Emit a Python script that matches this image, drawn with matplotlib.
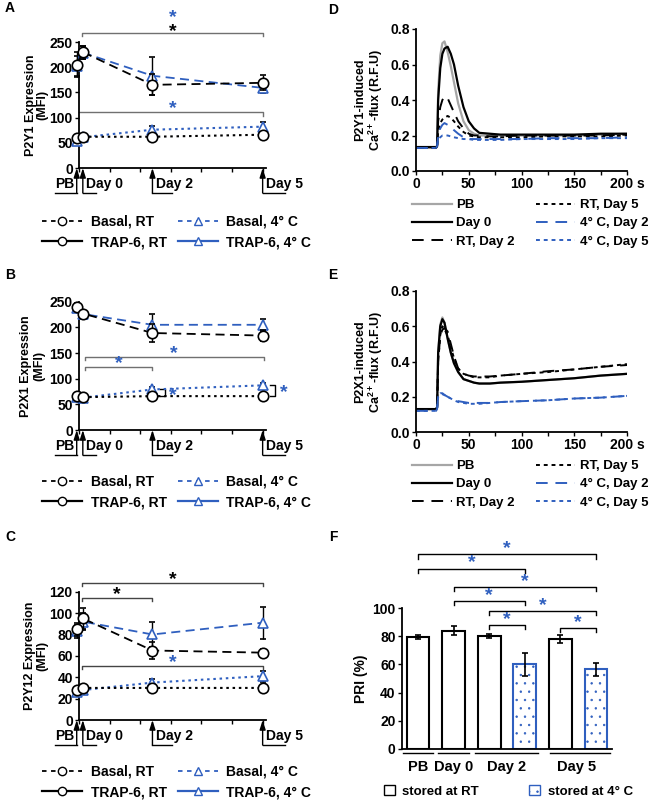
import matplotlib
matplotlib.use('Agg')
import matplotlib.pyplot as plt
from matplotlib.lines import Line2D
from matplotlib.patches import Patch

plt.rcParams['font.family'] = ['Liberation Sans', 'DejaVu Sans']
plt.rcParams['font.weight'] = 'bold'
plt.rcParams['axes.labelweight'] = 'bold'
plt.rcParams['mathtext.fontset'] = 'custom'
plt.rcParams['mathtext.rm'] = 'Liberation Sans:bold'
plt.rcParams['mathtext.bf'] = 'Liberation Sans:bold'
plt.rcParams['hatch.linewidth'] = 0.5

BLUE = '#2F5FBF'
GRAY = '#707070'

# ---- expression data (A-C), x in hours: PB, Day 0, Day 2, Day 5
hours = [-1.5, 2.5, 48, 120]

p2y1_trap_rt = [205, 230, 165, 169]
p2y1_trap_rt_err = [25, 13, 21, 15]
p2y1_trap_4c = [203, 229, 183, 159]
p2y1_trap_4c_err = [20, 13, 38, 10]
p2y1_basal_rt = [59, 62, 62, 66]
p2y1_basal_rt_err = [3, 3, 4, 3]
p2y1_basal_4c = [53, 61, 76, 82]
p2y1_basal_4c_err = [3, 3, 8, 10]

p2x1_trap_rt = [240, 227, 189, 184]
p2x1_trap_rt_err = [8, 6, 18, 10]
p2x1_trap_4c = [238, 226, 205, 205]
p2x1_trap_4c_err = [8, 6, 22, 12]
p2x1_basal_rt = [66, 64, 66, 66]
p2x1_basal_rt_err = [3, 3, 3, 3]
p2x1_basal_4c = [65, 63, 79, 87]
p2x1_basal_4c_err = [3, 3, 4, 4]

p2y12_trap_rt = [85, 95, 65, 63]
p2y12_trap_rt_err = [6, 10, 8, 3]
p2y12_trap_4c = [83, 92, 80, 91]
p2y12_trap_4c_err = [6, 8, 12, 15]
p2y12_basal_rt = [28, 30, 30, 30]
p2y12_basal_rt_err = [2, 2, 2, 2]
p2y12_basal_4c = [26, 28, 35, 41]
p2y12_basal_4c_err = [2, 2, 3, 5]

# ---- calcium flux traces (D, E)
t_sec = [0, 10, 19, 20, 21, 23, 25, 27, 30, 33, 36, 40, 45, 50, 55, 60, 70, 80, 100, 125, 150, 175, 200]

d_pb = [0.13, 0.13, 0.13, 0.14, 0.45, 0.65, 0.72, 0.73, 0.67, 0.59, 0.50, 0.38, 0.28, 0.23, 0.21, 0.20, 0.20, 0.20, 0.20, 0.20, 0.20, 0.205, 0.21]
d_day0 = [0.135, 0.135, 0.135, 0.14, 0.40, 0.58, 0.66, 0.69, 0.70, 0.66, 0.60, 0.48, 0.36, 0.28, 0.24, 0.215, 0.21, 0.205, 0.205, 0.205, 0.205, 0.21, 0.21]
d_rt2 = [0.13, 0.13, 0.13, 0.14, 0.28, 0.36, 0.40, 0.42, 0.41, 0.37, 0.33, 0.28, 0.24, 0.21, 0.20, 0.20, 0.195, 0.195, 0.20, 0.20, 0.20, 0.20, 0.205]
d_rt5 = [0.13, 0.13, 0.13, 0.14, 0.22, 0.27, 0.29, 0.30, 0.31, 0.30, 0.28, 0.25, 0.22, 0.20, 0.195, 0.19, 0.19, 0.19, 0.19, 0.195, 0.195, 0.195, 0.20]
d_4c2 = [0.13, 0.13, 0.13, 0.14, 0.20, 0.24, 0.26, 0.27, 0.26, 0.25, 0.23, 0.21, 0.19, 0.18, 0.18, 0.18, 0.18, 0.18, 0.18, 0.185, 0.185, 0.185, 0.19]
d_4c5 = [0.13, 0.13, 0.13, 0.14, 0.18, 0.19, 0.20, 0.20, 0.20, 0.195, 0.19, 0.185, 0.18, 0.18, 0.175, 0.175, 0.175, 0.175, 0.18, 0.18, 0.18, 0.185, 0.185]

e_pb = [0.13, 0.13, 0.13, 0.14, 0.45, 0.61, 0.65, 0.62, 0.53, 0.45, 0.39, 0.34, 0.30, 0.29, 0.28, 0.275, 0.275, 0.28, 0.285, 0.295, 0.305, 0.32, 0.33]
e_day0 = [0.13, 0.13, 0.13, 0.14, 0.45, 0.60, 0.64, 0.62, 0.53, 0.45, 0.39, 0.34, 0.30, 0.29, 0.28, 0.275, 0.275, 0.28, 0.285, 0.295, 0.305, 0.32, 0.33]
e_rt2 = [0.13, 0.13, 0.13, 0.14, 0.40, 0.55, 0.58, 0.59, 0.57, 0.50, 0.43, 0.36, 0.33, 0.32, 0.315, 0.315, 0.315, 0.32, 0.33, 0.345, 0.355, 0.37, 0.38]
e_rt5 = [0.13, 0.13, 0.13, 0.14, 0.40, 0.55, 0.60, 0.58, 0.55, 0.48, 0.42, 0.36, 0.33, 0.32, 0.31, 0.31, 0.31, 0.32, 0.33, 0.34, 0.355, 0.37, 0.385]
e_4c2 = [0.12, 0.12, 0.12, 0.13, 0.21, 0.22, 0.22, 0.21, 0.20, 0.19, 0.18, 0.175, 0.17, 0.165, 0.165, 0.165, 0.165, 0.17, 0.175, 0.18, 0.19, 0.195, 0.205]
e_4c5 = [0.12, 0.12, 0.12, 0.13, 0.20, 0.21, 0.215, 0.21, 0.20, 0.19, 0.18, 0.17, 0.165, 0.16, 0.16, 0.16, 0.165, 0.17, 0.175, 0.18, 0.19, 0.195, 0.205]

# ---- PRI (F)
pri_labels = ['PB', 'Day 0', 'Day 2', 'Day 5']
pri_values = [79.5, 84, 80, 60, 78, 56.5]
pri_err = [1.5, 3, 1.5, 8, 3, 4.5]
pri_cold = [False, False, False, True, False, True]


fig = plt.figure(figsize=(6.53, 8.0), dpi=100)


def px_axes(left, top, right, bottom):
    W, H = 653.0, 800.0
    return fig.add_axes([left / W, 1 - bottom / H, (right - left) / W, (bottom - top) / H])


def style_axes(ax):
    for s in ['top', 'right']:
        ax.spines[s].set_visible(False)
    for s in ['left', 'bottom']:
        ax.spines[s].set_linewidth(1.3)
    ax.tick_params(direction='out', length=3, width=1, pad=1.5)


def day_marks(ax, h_px):
    tr = ax.get_xaxis_transform()
    y_line = -25.0 / h_px
    y_text = -16.0 / h_px
    # (arrow x, label, line end x, text x, alignment)
    marks = [(-1.5, 'PB', -16, -9.5, 'center'),
             (2.5, 'Day 0', 11, 4.5, 'left'),
             (48, 'Day 2', 61, 50, 'left'),
             (120, 'Day 5', 134.5, 122, 'left')]
    for x, lab, xe, xt, ha in marks:
        ax.annotate('', xy=(x, 0), xycoords=tr, xytext=(x, y_line), textcoords=tr,
                    arrowprops=dict(arrowstyle='-|>,head_length=0.7,head_width=0.22', color='k',
                                    lw=1.0, mutation_scale=8, shrinkA=0, shrinkB=0))
        ax.plot([x, xe], [y_line, y_line], color='k', lw=1.0, transform=tr, clip_on=False)
        ax.text(xt, y_text, lab, transform=tr, ha=ha, va='center', fontsize=10)


def expression_panel(ax, series, ylim, step, ylabel, h_px, label_x, lsp):
    (trap_rt, trap_rt_e, trap_4c, trap_4c_e,
     basal_rt, basal_rt_e, basal_4c, basal_4c_e) = series
    kw_c = dict(marker='o', ms=7.5, mfc='white', mec='k', mew=1.2, ecolor='k',
                elinewidth=1, capsize=2, clip_on=False)
    kw_t = dict(marker='^', ms=7.5, mfc='white', mec=BLUE, mew=1.2, ecolor='k',
                elinewidth=1, capsize=2, clip_on=False)
    ax.errorbar(hours, trap_4c, yerr=trap_4c_e, color=BLUE, ls=(0, (5, 3)), lw=1.3, zorder=3, **kw_t)
    ax.errorbar(hours, basal_4c, yerr=basal_4c_e, color=BLUE, ls=(0, (1.2, 1.8)), lw=1.5, zorder=3, **kw_t)
    ax.errorbar(hours, trap_rt, yerr=trap_rt_e, color='k', ls=(0, (5, 3)), lw=1.3, zorder=4, **kw_c)
    ax.errorbar(hours, basal_rt, yerr=basal_rt_e, color='k', ls=(0, (1.2, 1.8)), lw=1.5, zorder=4, **kw_c)
    ax.set_xlim(0, 122)
    ax.set_ylim(*ylim)
    ax.set_yticks(range(ylim[0], ylim[1] + 1, step))
    ax.set_xticks(range(0, 121, 20))
    ax.set_xticklabels([])
    style_axes(ax)
    ax.tick_params(labelsize=10)
    ax.set_ylabel(ylabel, fontsize=9, linespacing=lsp)
    ax.yaxis.set_label_coords(label_x, 0.5)
    day_marks(ax, h_px)


def expr_legend(ax, top_px):
    handles = [
        Line2D([], [], color='k', ls=(0, (2.5, 2.5)), lw=1.3, marker='o', ms=6, mfc='white', mec='k'),
        Line2D([], [], color='k', ls='-', lw=1.6, marker='o', ms=6, mfc='white', mec='k'),
        Line2D([], [], color=BLUE, ls=(0, (2.5, 2.5)), lw=1.3, marker='^', ms=6, mfc='white', mec=BLUE),
        Line2D([], [], color=BLUE, ls='-', lw=1.6, marker='^', ms=6, mfc='white', mec=BLUE),
    ]
    labels = ['Basal, RT', 'TRAP-6, RT', 'Basal, 4\u00b0 C', 'TRAP-6, 4\u00b0 C']
    ax.legend(handles, labels, ncol=2, loc='upper left', frameon=False,
              bbox_to_anchor=(42 / 653, 1 - top_px / 800), bbox_transform=fig.transFigure,
              fontsize=10, handlelength=2.9, handletextpad=0.6, columnspacing=0.8,
              labelspacing=0.45, borderpad=0, borderaxespad=0)


def bracket(ax, x0, x1, y, drop, color, left=True, right=True):
    xs = ([x0] if left else []) + [x0, x1] + ([x1] if right else [])
    ys = ([y - drop] if left else []) + [y, y] + ([y - drop] if right else [])
    ax.plot(xs, ys, color=color, lw=1, clip_on=False, zorder=2)


def star(ax, x, y, color):
    ax.text(x, y, '*', color=color, fontsize=14, fontweight='bold', ha='center', va='center',
            clip_on=False)


# ---------------- A
axA = px_axes(79, 42, 265.7, 168)
expression_panel(axA, [p2y1_trap_rt, p2y1_trap_rt_err, p2y1_trap_4c, p2y1_trap_4c_err,
                       p2y1_basal_rt, p2y1_basal_rt_err, p2y1_basal_4c, p2y1_basal_4c_err],
                 (0, 250), 50, 'P2Y1 Expression\n(MFI)', 126, -0.165, 0.95)
bracket(axA, 2, 120, 268, 7, GRAY)
star(axA, 61, 271, 'k')
star(axA, 61, 299, BLUE)
bracket(axA, 0, 120, 111, 7, GRAY, left=False)
star(axA, 61, 117, BLUE)
expr_legend(axA, 215)

# ---------------- B
axB = px_axes(79, 301.7, 265.7, 430)
expression_panel(axB, [p2x1_trap_rt, p2x1_trap_rt_err, p2x1_trap_4c, p2x1_trap_4c_err,
                       p2x1_basal_rt, p2x1_basal_rt_err, p2x1_basal_4c, p2x1_basal_4c_err],
                 (0, 250), 50, 'P2X1 Expression\n(MFI)', 128, -0.18, 1.15)
bracket(axB, 4, 121, 142, 6, GRAY)
star(axB, 62, 148, BLUE)
bracket(axB, 4, 48, 123, 6, GRAY)
star(axB, 26, 129, BLUE)
axB.plot([53, 56, 56, 53], [p2x1_basal_rt[2], p2x1_basal_rt[2], p2x1_basal_4c[2], p2x1_basal_4c[2]],
         color='k', lw=1, clip_on=False)
star(axB, 61, 68, BLUE)
axB.plot([125, 128, 128, 125], [p2x1_basal_rt[3], p2x1_basal_rt[3], p2x1_basal_4c[3], p2x1_basal_4c[3]],
         color='k', lw=1, clip_on=False)
star(axB, 134, 72, BLUE)
expr_legend(axB, 475)

# ---------------- C
axC = px_axes(79, 591.7, 265.7, 720)
expression_panel(axC, [p2y12_trap_rt, p2y12_trap_rt_err, p2y12_trap_4c, p2y12_trap_4c_err,
                       p2y12_basal_rt, p2y12_basal_rt_err, p2y12_basal_4c, p2y12_basal_4c_err],
                 (0, 120), 20, 'P2Y12 Expression\n(MFI)', 128, -0.165, 1.0)
bracket(axC, 2, 120, 128, 3, '#444444')
star(axC, 61, 131, 'k')
bracket(axC, 2, 48, 114, 3, '#444444')
star(axC, 25, 117, 'k')
bracket(axC, 2, 120, 50.5, 3, '#444444')
star(axC, 61, 54, BLUE)
expr_legend(axC, 765)


# ---------------- D and E
def flux_panel(ax, traces, ylabel):
    styles = [dict(color='#A6A6A6', ls='-', lw=1.6),
              dict(color='k', ls='-', lw=1.6),
              dict(color='k', ls=(0, (6, 4)), lw=1.4),
              dict(color='k', ls=(0, (2, 2)), lw=1.4),
              dict(color=BLUE, ls=(0, (6, 4)), lw=1.4),
              dict(color=BLUE, ls=(0, (2, 2)), lw=1.4)]
    for ys, st in zip(traces, styles):
        ax.plot(t_sec, ys, **st)
    ax.set_xlim(0, 200)
    ax.set_ylim(0, 0.8)
    ax.set_yticks([0, 0.2, 0.4, 0.6, 0.8])
    ax.set_yticklabels(['0.0', '0.2', '0.4', '0.6', '0.8'])
    ax.set_xticks([0, 50, 100, 150, 200])
    ax.set_xticklabels(['0', '50', '100', '150', '200 s'])
    ax.set_xticks(range(25, 200, 50), minor=True)
    style_axes(ax)
    ax.tick_params(which='minor', direction='out', length=3, width=1)
    ax.tick_params(labelsize=10)
    ax.set_ylabel(ylabel, fontsize=9, linespacing=1.05)
    ax.yaxis.set_label_coords(-0.145, 0.5)
    labels = ['PB', 'Day 0', 'RT, Day 2', 'RT, Day 5', '4\u00b0 C, Day 2', '4\u00b0 C, Day 5']
    handles = [Line2D([], [], **st) for st in styles]
    return handles, labels


def flux_legend(ax, h, l, top_px):
    ax.legend(h, l, ncol=2, loc='upper left', frameon=False,
              bbox_to_anchor=(412 / 653, 1 - top_px / 800), bbox_transform=fig.transFigure,
              fontsize=9.5, handlelength=3.0, handletextpad=0.35, columnspacing=1.6,
              labelspacing=0.45, borderpad=0, borderaxespad=0)


axD = px_axes(416, 29, 627, 171)
h, l = flux_panel(axD, [d_pb, d_day0, d_rt2, d_rt5, d_4c2, d_4c5],
                  'P2Y1-induced\nCa$^{2+}$-flux (R.F.U)')
flux_legend(axD, h, l, 199)

axE = px_axes(416, 291, 627, 432)
h, l = flux_panel(axE, [e_pb, e_day0, e_rt2, e_rt5, e_4c2, e_4c5],
                  'P2X1-induced\nCa$^{2+}$-flux (R.F.U)')
flux_legend(axE, h, l, 460)

# ---------------- F
axF = px_axes(402, 608, 612, 749)
pos = list(range(len(pri_values)))
for x, v, e, cold in zip(pos, pri_values, pri_err, pri_cold):
    axF.bar(x, v, width=0.64, facecolor='white', edgecolor=BLUE if cold else 'k',
            hatch='..' if cold else None, lw=1.5, zorder=2)
    axF.errorbar(x, v, yerr=e, color='k', elinewidth=1.2, capsize=2.5, capthick=1.2, zorder=3)
axF.set_xlim(-0.45, 5.45)
axF.set_ylim(0, 100)
axF.set_yticks(range(0, 101, 20))
axF.set_xticks([])
axF.set_ylabel('PRI (%)', fontsize=10)
axF.yaxis.set_label_coords(-0.16, 0.5)
style_axes(axF)
axF.tick_params(labelsize=10)

tr = axF.get_xaxis_transform()
groups = [(-0.42, 0.42, 0.0), (0.56, 1.42, 1.0), (1.6, 3.37, 2.5), (3.7, 5.4, 4.45)]
for (g0, g1, gc), lab in zip(groups, pri_labels):
    axF.plot([g0, g1], [-4 / 141, -4 / 141], color='k', lw=1, transform=tr, clip_on=False)
    axF.text(gc, -18 / 141, lab, transform=tr, ha='center', va='center', fontsize=10.5)

f_brackets = [(0, 5, 138), (0, 3, 128), (1, 5, 115), (1, 3, 105), (2, 5, 98), (2, 3, 88), (4, 5, 86)]
for x0, x1, y in f_brackets:
    bracket(axF, x0, x1, y, 3, 'k')
    star(axF, (x0 + x1) / 2, y + 4, BLUE)

axF.legend([Patch(facecolor='white', edgecolor='k', lw=1),
            Patch(facecolor='white', edgecolor=BLUE, hatch='..', lw=1)],
           ['stored at RT', 'stored at 4\u00b0 C'], ncol=2, loc='upper left', frameon=False,
           bbox_to_anchor=(384 / 653, 1 - 785 / 800), bbox_transform=fig.transFigure,
           fontsize=9.5, handlelength=0.8, handleheight=0.8, handletextpad=0.6,
           columnspacing=3.8, borderpad=0, borderaxespad=0)

# panel letters
for lab, x, y in [('A', 10, 8), ('B', 10, 275), ('C', 10, 537),
                  ('D', 333, 10), ('E', 333, 275), ('F', 333, 537)]:
    fig.text(x / 653, 1 - y / 800, lab, fontsize=10, fontweight='bold', ha='center', va='center')

fig.savefig('out.png', dpi=100)
